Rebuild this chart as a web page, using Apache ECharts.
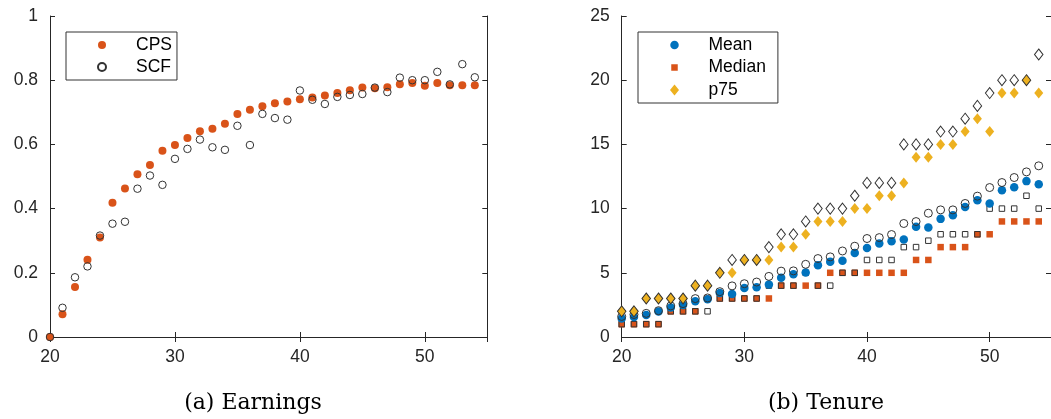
<!DOCTYPE html>
<html>
<head>
<meta charset="utf-8">
<script src="https://cdn.jsdelivr.net/npm/echarts@6/dist/echarts.min.js"></script>
<style>html,body{margin:0;padding:0;background:#fff}#c{width:1051px;height:419px}</style>
</head>
<body>
<div id="c"></div>
<script>
// ---- data ----
const ages = [20,21,22,23,24,25,26,27,28,29,30,31,32,33,34,35,36,37,38,39,40,41,42,43,44,45,46,47,48,49,50,51,52,53,54];

// (a) Earnings
const earnCPS = [0,0.071,0.156,0.241,0.31,0.418,0.463,0.507,0.536,0.58,0.598,0.62,0.641,0.649,0.664,0.695,0.708,0.719,0.728,0.734,0.741,0.746,0.752,0.760,0.769,0.777,0.775,0.778,0.787,0.791,0.783,0.791,0.784,0.784,0.784];
const earnSCF = [0,0.091,0.186,0.220,0.316,0.353,0.359,0.462,0.503,0.474,0.555,0.586,0.615,0.591,0.583,0.658,0.598,0.695,0.682,0.677,0.768,0.739,0.726,0.748,0.754,0.757,0.777,0.763,0.808,0.800,0.800,0.826,0.787,0.850,0.809];

// (b) Tenure
const meanCPS = [1.45,1.55,1.72,1.98,2.3,2.5,2.78,2.94,3.43,3.35,3.82,3.87,4.08,4.62,4.89,5.02,5.59,5.87,5.93,6.55,6.94,7.28,7.46,7.59,8.58,8.52,9.20,9.49,10.13,10.65,10.40,11.43,11.67,12.14,11.90];
const meanSCF = [1.6,1.75,1.84,2.05,2.42,2.6,2.99,3.04,3.53,3.98,4.15,4.28,4.72,5.13,5.15,5.66,6.11,6.24,6.70,7.07,7.67,7.74,7.98,8.84,8.99,9.64,9.90,9.90,10.40,10.97,11.64,12.03,12.42,12.86,13.33];
const medianCPS = [1,1,1,1,2,2,2,3,3,3,3,3,3,4,4,4,4,5,5,5,5,5,5,5,6,6,7,7,7,8,8,9,9,9,9];
const medianSCF = [1,1,1,1,2,2,2,2,3,3,3,3,4,4,4,5,4,4,5,5,6,6,6,7,7,7.5,8,8,8,8,10,10,10,11,10];
const p75CPS = [2,2,3,3,3,3,4,4,5,5,6,6,6,7,7,8,9,9,9,10,10,11,11,12,14,14,15,15,16,17,16,19,19,20,19];
const p75SCF = [2,2,3,3,3,3,4,4,5,6,6,6,7,8,8,9,10,10,10,11,12,12,12,15,15,15,16,16,17,18,19,20,20,20,22];

const earnTicks = {min:0, max:1, interval:0.2};
const tenureTicks = {min:0, max:25, interval:5};
const ageTicks = {min:20, max:55, interval:10};
const captions = ['(a) Earnings', '(b) Tenure'];

// ---- styling ----
const C_ORANGE = '#D95319', C_BLUE = '#0072BD', C_YELLOW = '#EDB120';
const AX = '#262626';
const FONT = 'Liberation Sans';
const pairs = v => ages.map((a,i) => [a, v[i]]);

function xAxes(gi){
  const base = {type:'value', gridIndex:gi, min:ageTicks.min, max:ageTicks.max, interval:ageTicks.interval,
    splitLine:{show:false}, axisLine:{lineStyle:{color:AX, width:1}},
    axisTick:{inside:true, length:5, lineStyle:{color:AX}}};
  return [
    Object.assign({}, base, {position:'bottom', axisLabel:{color:AX, fontFamily:FONT, fontSize:17.5, margin:11, showMaxLabel:false}}),
    Object.assign({}, base, {position:'top', axisLabel:{show:false}})
  ];
}
function yAxes(gi, t){
  const base = {type:'value', gridIndex:gi, min:t.min, max:t.max, interval:t.interval,
    splitLine:{show:false}, axisLine:{lineStyle:{color:AX, width:1}},
    axisTick:{inside:true, length:5, lineStyle:{color:AX}}};
  return [
    Object.assign({}, base, {position:'left', axisLabel:{color:AX, fontFamily:FONT, fontSize:17.5, margin:12}}),
    Object.assign({}, base, {position:'right', axisLabel:{show:false}})
  ];
}
function filled(name, gi, data, symbol, size, color){
  return {type:'scatter', name, xAxisIndex:gi*2, yAxisIndex:gi*2, data:pairs(data), symbol, symbolSize:size,
    itemStyle:{color, opacity:1}, clip:false, emphasis:{disabled:true}, silent:true};
}
function open(name, gi, data, symbol, size){
  return {type:'scatter', name, xAxisIndex:gi*2, yAxisIndex:gi*2, data:pairs(data), symbol, symbolSize:size,
    itemStyle:{color:'rgba(255,255,255,0)', borderColor:'#333', borderWidth:1, opacity:1}, clip:false, emphasis:{disabled:true}, silent:true};
}

const option = {
  animation:false,
  backgroundColor:'#fff',
  grid:[
    {left:50, top:16, width:437.3, height:321, containLabel:false},
    {left:621.7, top:16, width:437.5, height:321, containLabel:false}
  ],
  xAxis:[...xAxes(0), ...xAxes(1)],
  yAxis:[...yAxes(0, earnTicks), ...yAxes(1, tenureTicks)],
  legend:[
    {left:66, top:32, orient:'vertical', padding:[3,5,3,31], itemGap:2, itemWidth:58, itemHeight:8,
     symbolKeepAspect:true, borderColor:'#333', borderWidth:1, backgroundColor:'#fff', selectedMode:false,
     textStyle:{fontFamily:FONT, fontSize:17.5, color:'#000', lineHeight:20},
     data:[{name:'CPS', icon:'circle'}, {name:'SCF', icon:'circle'}]},
    {left:638, top:32, orient:'vertical', padding:[3,12,3,31], itemGap:2.5, itemWidth:58, itemHeight:11,
     symbolKeepAspect:true, borderColor:'#333', borderWidth:1, backgroundColor:'#fff', selectedMode:false,
     textStyle:{fontFamily:FONT, fontSize:17.5, color:'#000', lineHeight:20},
     data:[
       {name:'Mean', icon:'path://M0,0M11,11M9.75,5.5A4.25,4.25,0,1,1,1.25,5.5A4.25,4.25,0,1,1,9.75,5.5Z'},
       {name:'Median', icon:'path://M0,0M11,11M2.25,2.25L8.75,2.25L8.75,8.75L2.25,8.75Z'},
       {name:'p75', icon:'path://M0,0M11,11M5.5,0L10,5.5L5.5,11L1,5.5Z'}
     ]}
  ],
  series:[
    filled('CPS', 0, earnCPS, 'circle', 8, C_ORANGE),
    open('SCF', 0, earnSCF, 'circle', 7.5),
    filled('Median', 1, medianCPS, 'rect', 6.5, C_ORANGE),
    open('Median SCF', 1, medianSCF, 'rect', 5.5),
    filled('Mean', 1, meanCPS, 'circle', 8.5, C_BLUE),
    open('Mean SCF', 1, meanSCF, 'circle', 8),
    filled('p75', 1, p75CPS, 'diamond', [9,11], C_YELLOW),
    open('p75 SCF', 1, p75SCF, 'diamond', [8.5,11])
  ],
  graphic:[
    {type:'text', x:253, y:403, style:{text:captions[0], fontFamily:'DejaVu Serif', fontSize:22, fill:'#000', align:'center', verticalAlign:'middle'}},
    {type:'text', x:826, y:403, style:{text:captions[1], fontFamily:'DejaVu Serif', fontSize:22, fill:'#000', align:'center', verticalAlign:'middle'}}
  ]
};
const chart = echarts.init(document.getElementById('c'), null, {renderer:'canvas'});
chart.setOption(option);
</script>
</body>
</html>
